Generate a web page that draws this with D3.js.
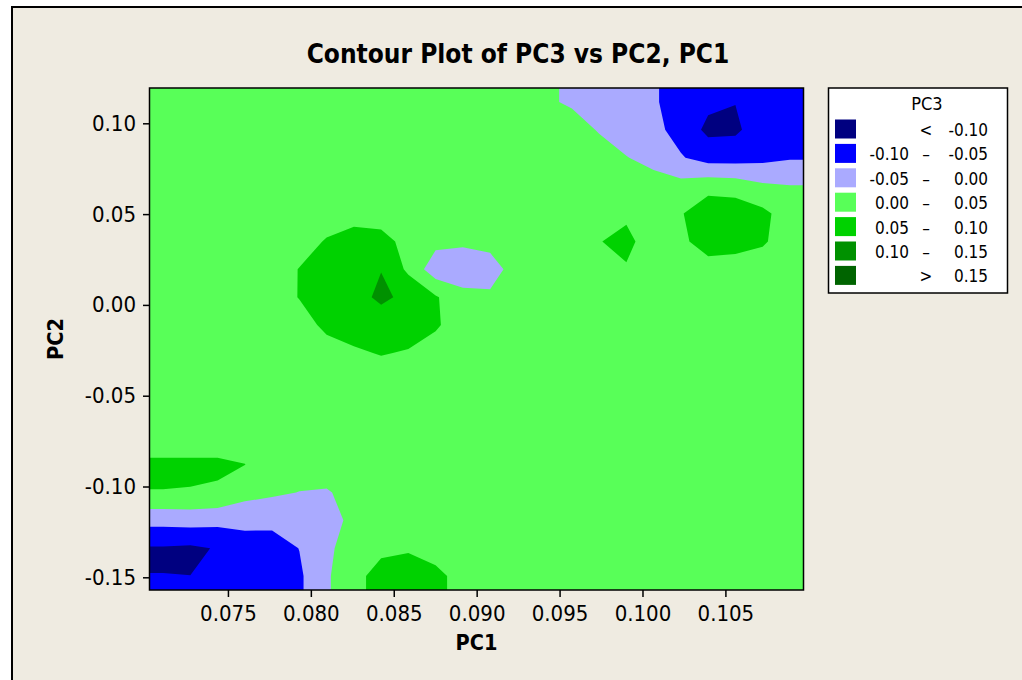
<!DOCTYPE html>
<html>
<head>
<meta charset="utf-8">
<script src="https://cdn.jsdelivr.net/npm/d3@7"></script>
<style>
  body { margin: 0; background: #fff; overflow: hidden; }
  svg text { font-family: "DejaVu Sans", sans-serif; font-stretch: condensed; fill: #000; }
</style>
</head>
<body>
<svg id="chart" width="1022" height="680"></svg>
<script>
// Contour plot of PC3 over a PC1 x PC2 grid

const pc1Range = [0.07027, 0.10971];
const pc2Range = [-0.15699, 0.11944];

// grid positions the PC3 surface is sampled at
const pc1Grid = [0.07109, 0.07274, 0.07438, 0.07602, 0.07767, 0.07931, 0.08095, 0.08260,
  0.08424, 0.08588, 0.08753, 0.08917, 0.09081, 0.09246, 0.09410, 0.09574,
  0.09739, 0.09903, 0.10067, 0.10232, 0.10396, 0.10560, 0.10725, 0.10889];
// top row first
const pc2Grid = [0.11176, 0.09640, 0.08105, 0.06569, 0.05033, 0.03498, 0.01962, 0.00426,
  -0.01110, -0.02645, -0.04181, -0.05717, -0.07253, -0.08788, -0.10324, -0.11860,
  -0.13395, -0.14931];

// PC3, one row per pc2Grid value, one column per pc1Grid value
const pc3 = [
  [0.026, 0.025, 0.024, 0.025, 0.026, 0.027, 0.026, 0.025, 0.024, 0.025, 0.026, 0.025, 0.024, 0.025, 0.008, -0.007, -0.022, -0.033, -0.044, -0.074, -0.090, -0.099, -0.098, -0.080],
  [0.025, 0.026, 0.025, 0.024, 0.025, 0.026, 0.027, 0.026, 0.025, 0.024, 0.025, 0.026, 0.025, 0.025, 0.025, 0.023, -0.004, -0.025, -0.036, -0.069, -0.111, -0.108, -0.075, -0.080],
  [0.024, 0.025, 0.026, 0.025, 0.024, 0.025, 0.026, 0.027, 0.026, 0.025, 0.024, 0.025, 0.026, 0.025, 0.025, 0.025, 0.024, 0.002, -0.017, -0.046, -0.070, -0.070, -0.063, -0.054],
  [0.025, 0.024, 0.025, 0.026, 0.025, 0.024, 0.025, 0.026, 0.027, 0.026, 0.025, 0.024, 0.025, 0.026, 0.025, 0.025, 0.025, 0.025, 0.0215, 0.016, 0.030, 0.025, 0.0067, 0.0008],
  [0.026, 0.025, 0.024, 0.025, 0.026, 0.025, 0.025, 0.030, 0.026, 0.025, 0.024, 0.025, 0.026, 0.025, 0.025, 0.025, 0.023, 0.040, 0.025, 0.046, 0.085, 0.082, 0.062, 0.025],
  [0.025, 0.026, 0.025, 0.024, 0.025, 0.029, 0.054, 0.072, 0.068, 0.033, 0.014, 0.008, 0.014, 0.022, 0.025, 0.025, 0.048, 0.065, 0.020, 0.040, 0.072, 0.069, 0.056, 0.025],
  [0.024, 0.025, 0.026, 0.025, 0.025, 0.0517, 0.075, 0.085, 0.099, 0.040, -0.030, -0.030, -0.020, 0.0207, 0.025, 0.025, 0.030, 0.045, 0.025, 0.025, 0.0305, 0.027, 0.025, 0.025],
  [0.025, 0.024, 0.025, 0.026, 0.025, 0.052, 0.068, 0.085, 0.108, 0.090, 0.055, 0.015, 0.008, 0.025, 0.026, 0.025, 0.024, 0.025, 0.026, 0.025, 0.024, 0.025, 0.026, 0.025],
  [0.026, 0.025, 0.024, 0.025, 0.025, 0.029, 0.061, 0.072, 0.079, 0.075, 0.056, 0.025, 0.026, 0.025, 0.024, 0.025, 0.026, 0.025, 0.024, 0.025, 0.026, 0.025, 0.024, 0.025],
  [0.025, 0.026, 0.025, 0.024, 0.025, 0.025, 0.029, 0.043, 0.053, 0.046, 0.029, 0.025, 0.024, 0.025, 0.026, 0.025, 0.024, 0.025, 0.026, 0.025, 0.025, 0.024, 0.025, 0.026],
  [0.024, 0.025, 0.026, 0.025, 0.024, 0.026, 0.025, 0.025, 0.024, 0.026, 0.025, 0.027, 0.026, 0.025, 0.024, 0.025, 0.026, 0.027, 0.026, 0.025, 0.024, 0.025, 0.026, 0.025],
  [0.025, 0.024, 0.025, 0.026, 0.025, 0.024, 0.026, 0.027, 0.025, 0.024, 0.026, 0.025, 0.024, 0.026, 0.027, 0.026, 0.025, 0.024, 0.025, 0.026, 0.027, 0.026, 0.025, 0.024],
  [0.025, 0.025, 0.025, 0.025, 0.026, 0.025, 0.024, 0.025, 0.026, 0.025, 0.024, 0.026, 0.025, 0.024, 0.025, 0.026, 0.027, 0.025, 0.024, 0.025, 0.026, 0.025, 0.024, 0.025],
  [0.058, 0.058, 0.058, 0.0506, 0.025, 0.025, 0.025, 0.025, 0.024, 0.025, 0.026, 0.025, 0.024, 0.025, 0.026, 0.025, 0.024, 0.026, 0.025, 0.024, 0.025, 0.026, 0.025, 0.024],
  [0.049, 0.048, 0.044, 0.017, 0.0072, -0.001, -0.004, 0.0158, 0.025, 0.026, 0.025, 0.024, 0.025, 0.026, 0.025, 0.024, 0.025, 0.026, 0.027, 0.026, 0.025, 0.024, 0.025, 0.026],
  [-0.0334, -0.0297, -0.0352, -0.0358, -0.0357, -0.0307, -0.020, 0.0125, 0.025, 0.024, 0.025, 0.026, 0.025, 0.024, 0.026, 0.025, 0.024, 0.025, 0.026, 0.025, 0.024, 0.025, 0.026, 0.025],
  [-0.104, -0.108, -0.097, -0.074, -0.075, -0.049, -0.0096, 0.023, 0.0377, 0.0425, 0.031, 0.025, 0.024, 0.025, 0.026, 0.025, 0.024, 0.025, 0.026, 0.025, 0.024, 0.026, 0.025, 0.024],
  [-0.0995, -0.0998, -0.099, -0.080, -0.070, -0.058, -0.006, 0.0325, 0.0716, 0.085, 0.062, 0.0335, 0.025, 0.026, 0.025, 0.024, 0.025, 0.026, 0.025, 0.024, 0.025, 0.026, 0.025, 0.024]
];

const levels = [-0.10, -0.05, 0.00, 0.05, 0.10, 0.15];
const levelColors = ['#000080', '#0000ff', '#aaaaff', '#58ff58', '#00d200', '#009100', '#006400'];

const xTicks = [0.075, 0.080, 0.085, 0.090, 0.095, 0.100, 0.105];
const yTicks = [0.10, 0.05, 0.00, -0.05, -0.10, -0.15];

const title = 'Contour Plot of PC3 vs PC2, PC1';
const xLabel = 'PC1';
const yLabel = 'PC2';
const zLabel = 'PC3';

const plot = { left: 149.5, top: 88, right: 803.5, bottom: 590 };

const svg = d3.select('#chart');

// figure region
svg.append('rect')
  .attr('x', 12).attr('y', 7)
  .attr('width', 1030).attr('height', 690)
  .attr('fill', '#efebe1')
  .attr('stroke', '#000')
  .attr('stroke-width', 2);

const x = d3.scaleLinear().domain(pc1Range).range([plot.left, plot.right]);
const y = d3.scaleLinear().domain(pc2Range).range([plot.bottom, plot.top]);

// repeat the edge rows/cols once so bands run straight out to the plot frame
const nx = pc1Grid.length;
const ny = pc2Grid.length;
const padded = [];
for (let j = -1; j <= ny; j++) {
  const r = pc3[Math.max(0, Math.min(ny - 1, j))];
  for (let i = -1; i <= nx; i++) padded.push(r[Math.max(0, Math.min(nx - 1, i))]);
}

// contour grid index -> data -> screen
const gx = d3.scaleLinear().domain([0.5, nx - 0.5]).range([pc1Grid[0], pc1Grid[nx - 1]]);
const gy = d3.scaleLinear().domain([0.5, ny - 0.5]).range([pc2Grid[0], pc2Grid[ny - 1]]);
const toScreen = d3.geoTransform({
  point(u, v) { this.stream.point(x(gx(u - 1)), y(gy(v - 1))); }
});
const path = d3.geoPath(toScreen);

const bands = d3.contours()
  .size([nx + 2, ny + 2])
  .thresholds(levels)(padded);

svg.append('clipPath').attr('id', 'plot-clip')
  .append('rect')
  .attr('x', plot.left).attr('y', plot.top)
  .attr('width', plot.right - plot.left)
  .attr('height', plot.bottom - plot.top);

const g = svg.append('g').attr('clip-path', 'url(#plot-clip)');

// lowest band underneath everything
g.append('rect')
  .attr('x', plot.left).attr('y', plot.top)
  .attr('width', plot.right - plot.left)
  .attr('height', plot.bottom - plot.top)
  .attr('fill', levelColors[0]);

g.selectAll('path.band')
  .data(bands)
  .join('path')
  .attr('class', 'band')
  .attr('d', path)
  .attr('fill', (d, i) => levelColors[i + 1]);

svg.append('rect')
  .attr('x', plot.left).attr('y', plot.top)
  .attr('width', plot.right - plot.left)
  .attr('height', plot.bottom - plot.top)
  .attr('fill', 'none')
  .attr('stroke', '#000')
  .attr('stroke-width', 1.5);

// axes
const fmt = p => d => d3.format(p)(d).replace('\u2212', '-');

svg.append('g')
  .attr('transform', `translate(0,${plot.bottom})`)
  .call(d3.axisBottom(x).tickValues(xTicks).tickFormat(fmt('.3f')).tickSize(7).tickPadding(8))
  .call(a => a.select('.domain').remove())
  .call(a => a.selectAll('line').attr('stroke', '#000').attr('stroke-width', 1.5))
  .attr('font-family', null)
  .attr('font-size', 22);

svg.append('g')
  .attr('transform', `translate(${plot.left},0)`)
  .call(d3.axisLeft(y).tickValues(yTicks).tickFormat(fmt('.2f')).tickSize(6.5).tickPadding(7))
  .call(a => a.select('.domain').remove())
  .call(a => a.selectAll('line').attr('stroke', '#000').attr('stroke-width', 1.5))
  .attr('font-family', null)
  .attr('font-size', 22);

svg.append('text')
  .attr('x', 518).attr('y', 63)
  .attr('text-anchor', 'middle')
  .attr('font-size', 26)
  .attr('font-weight', 'bold')
  .text(title);

svg.append('text')
  .attr('x', (plot.left + plot.right) / 2).attr('y', 650)
  .attr('text-anchor', 'middle')
  .attr('font-size', 21.5)
  .attr('font-weight', 'bold')
  .text(xLabel);

svg.append('text')
  .attr('transform', `translate(63,${(plot.top + plot.bottom) / 2}) rotate(-90)`)
  .attr('text-anchor', 'middle')
  .attr('font-size', 21.5)
  .attr('font-weight', 'bold')
  .text(yLabel);

// legend
const legend = svg.append('g');
legend.append('rect')
  .attr('x', 828.5).attr('y', 88)
  .attr('width', 179).attr('height', 205)
  .attr('fill', '#fff')
  .attr('stroke', '#000')
  .attr('stroke-width', 1.5);

legend.append('text')
  .attr('x', 927).attr('y', 110)
  .attr('text-anchor', 'middle')
  .attr('font-size', 18)
  .text(zLabel);

const f2 = fmt('.2f');
const legendRows = levelColors.map((c, k) => {
  if (k === 0) return { color: c, lo: '', mid: '<', hi: f2(levels[0]) };
  if (k === levels.length) return { color: c, lo: '', mid: '>', hi: f2(levels[k - 1]) };
  return { color: c, lo: f2(levels[k - 1]), mid: '\u2013', hi: f2(levels[k]) };
});

const row = legend.selectAll('g.row')
  .data(legendRows)
  .join('g')
  .attr('class', 'row')
  .attr('transform', (d, k) => `translate(0,${119.5 + k * 24.4})`);

row.append('rect')
  .attr('x', 835).attr('width', 21).attr('height', 19)
  .attr('fill', d => d.color);

row.append('text').attr('x', 909).attr('y', 16.5).attr('text-anchor', 'end')
  .attr('font-size', 17).text(d => d.lo);
row.append('text').attr('x', 926).attr('y', 16.5).attr('text-anchor', 'middle')
  .attr('font-size', 17).text(d => d.mid);
row.append('text').attr('x', 988).attr('y', 16.5).attr('text-anchor', 'end')
  .attr('font-size', 17).text(d => d.hi);
</script>
</body>
</html>
